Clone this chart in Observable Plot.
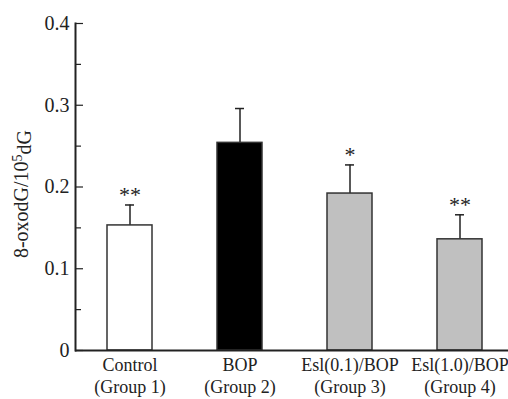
<!DOCTYPE html>
<html>
<head>
<meta charset="utf-8">
<script src="https://cdn.jsdelivr.net/npm/d3@7"></script>
<script src="https://cdn.jsdelivr.net/npm/@observablehq/plot@0.6"></script>
<style>
  html, body { margin: 0; padding: 0; background: #fff; }
  #chart { width: 508px; height: 399px; position: relative; }
  svg { font-family: "Liberation Serif", "Times New Roman", serif; }
</style>
</head>
<body>
<div id="chart"></div>
<script>
// Data
const categories = ["Control", "BOP", "Esl(0.1)/BOP", "Esl(1.0)/BOP"];
const groupLabels = ["(Group 1)", "(Group 2)", "(Group 3)", "(Group 4)"];
const means = [0.153, 0.254, 0.192, 0.136];
const errors = [0.025, 0.042, 0.035, 0.030];
const significance = ["**", "", "*", "**"];
const fills = ["#ffffff", "#000000", "#c0c0c0", "#c0c0c0"];
const yTicks = [0, 0.1, 0.2, 0.3, 0.4];
const yTickLabels = ["0", "0.1", "0.2", "0.3", "0.4"];
const yMinorTicks = [0.05, 0.15, 0.25, 0.35];

const rows = categories.map((c, i) => ({
  cat: c, group: groupLabels[i], mean: means[i], err: errors[i],
  top: means[i] + errors[i], sig: significance[i], fill: fills[i]
}));
const labelOf = Object.fromEntries(categories.map((c, i) => [c, c + "\n" + groupLabels[i]]));

const ink = "#222";
const plot = Plot.plot({
  width: 508,
  height: 399,
  marginLeft: 75,
  marginRight: 0,
  marginTop: 23,
  marginBottom: 49,
  style: { fontFamily: "Liberation Serif, Times New Roman, serif", fontSize: "18px", color: ink, background: "#fff" },
  x: { type: "band", domain: categories, range: [75, 515], paddingInner: 0.59, paddingOuter: 0.295, label: null },
  y: { domain: [0, 0.4], label: null },
  marks: [
    Plot.ruleX(rows, { x: "cat", y1: "mean", y2: "top", stroke: ink, strokeWidth: 1.5 }),
    Plot.tickY(rows, { x: "cat", y: "top", stroke: ink, strokeWidth: 1.5, insetLeft: 18, insetRight: 18 }),
    Plot.barY(rows, { x: "cat", y: "mean", fill: "fill", stroke: "#333", strokeWidth: 1.5 }),
    Plot.text(rows, { x: "cat", y: "top", text: "sig", dy: -3, lineAnchor: "bottom", fontSize: 22, fill: ink, letterSpacing: "1px" }),
    Plot.axisY({ ticks: yMinorTicks, tickSize: -6, text: null, stroke: ink, strokeWidth: 1.2 }),
    Plot.axisY({ ticks: yTicks, tickSize: -8, text: null, stroke: ink, strokeWidth: 1.2 }),
    Plot.axisY({ ticks: yTicks, tickSize: 0, tickPadding: 6, tickFormat: (d) => yTickLabels[yTicks.indexOf(d)], fontSize: 20, fill: ink, label: null }),
    Plot.axisX({ tickSize: 0, tickPadding: 5, tickFormat: (d) => labelOf[d], fontSize: 18, fill: ink, lineHeight: 1.22, label: null }),
    Plot.frame({ anchor: "left", stroke: ink, strokeWidth: 2 }),
    Plot.ruleY([0], { stroke: ink, strokeWidth: 2 })
  ]
});
document.getElementById("chart").appendChild(plot);

// Rotated y-axis title with superscript, positioned in the left margin
const svg = d3.select(plot);
const t = svg.append("text")
  .attr("transform", "translate(28,194) rotate(-90)")
  .attr("text-anchor", "middle")
  .attr("fill", ink)
  .style("font-size", "20px");
t.append("tspan").text("8-oxodG/10");
t.append("tspan").attr("dy", "-0.45em").style("font-size", "14px").text("5");
t.append("tspan").attr("dy", "0.45em").text("dG");
</script>
</body>
</html>
